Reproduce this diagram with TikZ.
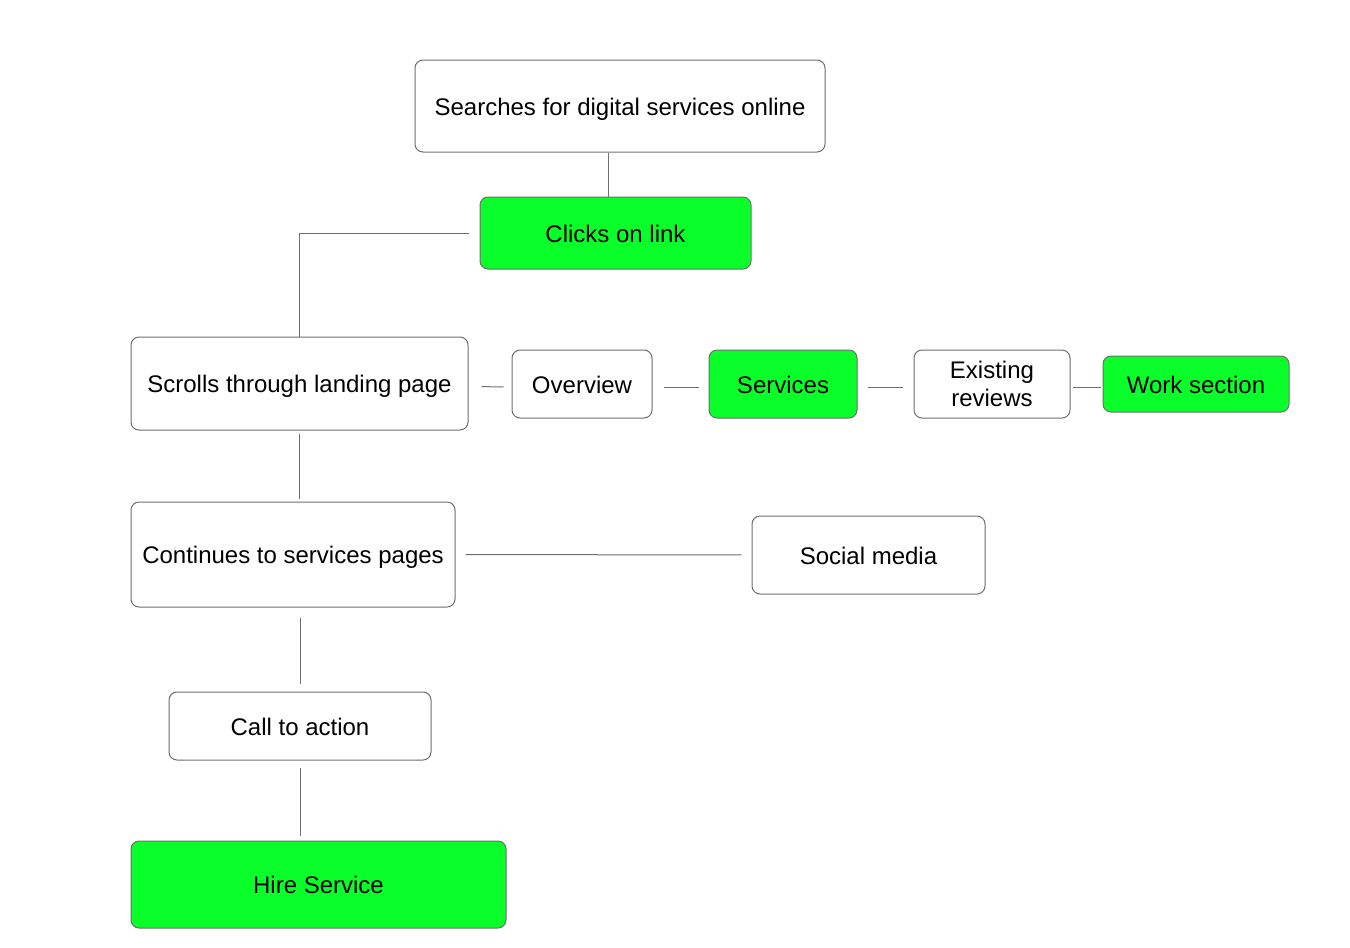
\documentclass[tikz,border=0pt]{standalone}
\usepackage{fontspec}
\setmainfont{Liberation Sans}
\usetikzlibrary{positioning}

\definecolor{boxgreen}{RGB}{10,255,42}
\definecolor{edgegray}{RGB}{110,110,110}

\begin{document}
\begin{tikzpicture}[x=0.75pt,y=0.75pt,yscale=-1,xscale=1,
  box/.style={draw=edgegray, line width=0.75pt, rounded corners=6pt, fill=white, inner sep=0pt, align=center, text height=16pt, text depth=2pt, font=\fontsize{18pt}{21pt}\selectfont},
  greenbox/.style={box, fill=boxgreen},
  twoline/.style={text height=, text depth=},
  link/.style={draw=edgegray, line width=0.75pt}]
%set diagram left start at 0, and has height of 947
\path[use as bounding box] (0,0) rectangle (1350,947);

%Shape: Rounded Rect [id:search] 
\node[box, minimum width=307.5pt, minimum height=69pt] (search) at (620,106) {Searches for digital services online};
%Shape: Rounded Rect [id:clicks] 
\node[greenbox, minimum width=203.25pt, minimum height=54pt] (clicks) at (615.5,233) {Clicks on link};
%Shape: Rounded Rect [id:landing] 
\node[box, minimum width=252.75pt, minimum height=69.75pt] (landing) at (299.5,383.5) {Scrolls through landing page};
%Shape: Rounded Rect [id:overview] 
\node[box, minimum width=105pt, minimum height=51pt] (overview) at (582,384) {Overview};
%Shape: Rounded Rect [id:services] 
\node[greenbox, minimum width=111pt, minimum height=51pt] (services) at (783,384) {Services};
%Shape: Rounded Rect [id:reviews] 
\node[box, twoline, minimum width=117pt, minimum height=51pt] (reviews) at (992,384) {Existing\\reviews};
%Shape: Rounded Rect [id:work] 
\node[greenbox, minimum width=139.5pt, minimum height=42pt] (work) at (1196,384) {Work section};
%Shape: Rounded Rect [id:continues] 
\node[box, minimum width=243pt, minimum height=78.75pt] (continues) at (293,554.5) {Continues to services pages};
%Shape: Rounded Rect [id:social] 
\node[box, minimum width=174.75pt, minimum height=58.5pt] (social) at (868.5,555) {Social media};
%Shape: Rounded Rect [id:cta] 
\node[box, minimum width=196.5pt, minimum height=51pt] (cta) at (300,726) {Call to action};
%Shape: Rounded Rect [id:hire] 
\node[greenbox, minimum width=281.25pt, minimum height=65.25pt] (hire) at (318.5,884.5) {Hire Service};

%Straight Lines [id:search-clicks] 
\draw[link] ([xshift=-4.9pt]clicks.north) -- ([xshift=-4.9pt]clicks.north |- search.south);
%Straight Lines [id:clicks-landing] 
\draw[link] ([xshift=-8.25pt]clicks.west) -| (landing.north);
%Straight Lines [id:landing-overview] 
\draw[link, shorten <=9.75pt, shorten >=6pt] ([yshift=2.25pt]landing.east) -- ([yshift=2.25pt]overview.west);
%Straight Lines [id:overview-services] 
\draw[link, shorten <=8.25pt, shorten >=7.5pt] ([yshift=2.25pt]overview.east) -- ([yshift=2.25pt]services.west);
%Straight Lines [id:services-reviews] 
\draw[link, shorten <=7.5pt, shorten >=8.25pt] ([yshift=2.25pt]services.east) -- ([yshift=2.25pt]reviews.west);
%Straight Lines [id:reviews-work] 
\draw[link, shorten <=1.5pt, shorten >=1.5pt] ([yshift=2.25pt]reviews.east) -- ([yshift=2.25pt]work.west);
%Straight Lines [id:landing-continues] 
\draw[link, shorten <=2.25pt, shorten >=2.25pt] (landing.south) -- (landing.south |- continues.north);
%Straight Lines [id:continues-social] 
\draw[link, shorten <=7.5pt, shorten >=7.5pt] (continues.east) -- (social.west);
%Straight Lines [id:continues-cta] 
\draw[link, shorten <=7.5pt, shorten >=6pt] (cta.north |- continues.south) -- (cta.north);
%Straight Lines [id:cta-hire] 
\draw[link, shorten <=5.25pt, shorten >=3.75pt] (cta.south) -- (cta.south |- hire.north);

\end{tikzpicture}
\end{document}
